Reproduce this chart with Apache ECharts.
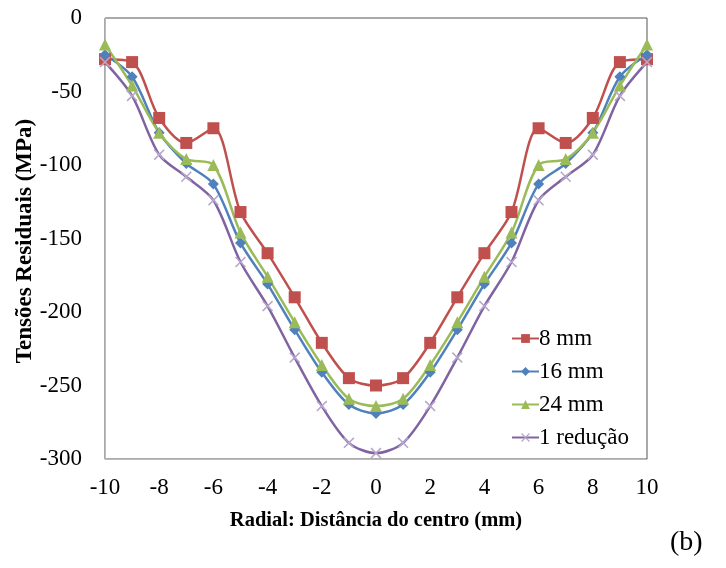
<!DOCTYPE html>
<html><head><meta charset="utf-8">
<script src="https://cdn.jsdelivr.net/npm/echarts@6/dist/echarts.min.js"></script>
<style>html,body{margin:0;padding:0;background:#fff}#c{width:726px;height:568px}</style>
</head><body><div id="c"></div>
<script>
var xs = [-10,-9,-8,-7,-6,-5,-4,-3,-2,-1,0,1,2,3,4,5,6,7,8,9,10];
var s8mm  = [-28,-30,-68,-85,-75,-132,-160,-190,-221,-245,-250,-245,-221,-190,-160,-132,-75,-85,-68,-30,-28];
var s16mm = [-25,-40,-78,-99,-113,-153,-181,-212,-241,-263,-269,-263,-241,-212,-181,-153,-113,-99,-78,-40,-25];
var s24mm = [-18,-46,-78,-96,-100,-146,-176,-207,-236,-259,-264,-259,-236,-207,-176,-146,-100,-96,-78,-46,-18];
var s1red = [-30,-53,-93,-108,-124,-166,-196,-231,-264,-289,-296,-289,-264,-231,-196,-166,-124,-108,-93,-53,-30];
var names = ['8 mm','16 mm','24 mm','1 redução'];
var yTitle = 'Tensões Residuais (MPa)';
var xTitle = 'Radial: Distância do centro (mm)';

function pairs(arr){ return xs.map(function(x,i){ return [x, arr[i]]; }); }
var font = '"Liberation Serif","Times New Roman",serif';
var xPath = 'path://M0,1L1,0L5,4L9,0L10,1L6,5L10,9L9,10L5,6L1,10L0,9L4,5Z';

var chart = echarts.init(document.getElementById('c'));
chart.setOption({
  animation:false,
  grid:{left:105, top:18, right:79, bottom:109, show:true, borderColor:'#555', borderWidth:1},
  xAxis:{type:'value', min:-10, max:10, interval:2,
    name:xTitle, nameLocation:'middle', nameGap:51,
    nameTextStyle:{fontFamily:font, fontWeight:'bold', fontSize:20.5, color:'#000'},
    axisLine:{onZero:false, lineStyle:{color:'#bbb'}}, axisTick:{show:false}, splitLine:{show:false},
    axisLabel:{fontFamily:font, fontSize:23, color:'#000', margin:17}},
  yAxis:{type:'value', min:-300, max:0, interval:50,
    axisLine:{show:true, onZero:false, lineStyle:{color:'#bbb'}}, axisTick:{show:false}, splitLine:{show:false},
    axisLabel:{fontFamily:font, fontSize:23, color:'#000', margin:23}},
  legend:{orient:'vertical', left:506, top:322, itemGap:10, itemWidth:27, itemHeight:11,
    textStyle:{fontFamily:font, fontSize:23, lineHeight:23, color:'#000', padding:[0,0,0,-5]},
    data:names},
  series:[
    {name:names[0], type:'line', smooth:0.3, data:pairs(s8mm), symbol:'rect', symbolSize:12,
      lineStyle:{width:2.5, color:'#C0504D'}, itemStyle:{color:'#C0504D'}},
    {name:names[1], type:'line', smooth:0.3, data:pairs(s16mm), symbol:'diamond', symbolSize:11,
      lineStyle:{width:2.5, color:'#4F81BD'}, itemStyle:{color:'#4F81BD'}},
    {name:names[2], type:'line', smooth:0.3, data:pairs(s24mm), symbol:'triangle', symbolSize:12,
      lineStyle:{width:2.5, color:'#9BBB59'}, itemStyle:{color:'#9BBB59'}},
    {name:names[3], type:'line', smooth:0.3, data:pairs(s1red), symbol:xPath, symbolSize:11,
      lineStyle:{width:2.5, color:'#8064A2'}, itemStyle:{color:'#B7A6CC'}}
  ],
  graphic:[
    {type:'text', left:670, top:529, style:{text:'(b)', font:'28px '+font, fill:'#000'}},
    {type:'text', x:25, y:241, rotation:Math.PI/2,
      style:{text:yTitle, font:'bold 23px '+font, fill:'#000', align:'center', verticalAlign:'middle'}}
  ]
});
</script></body></html>
